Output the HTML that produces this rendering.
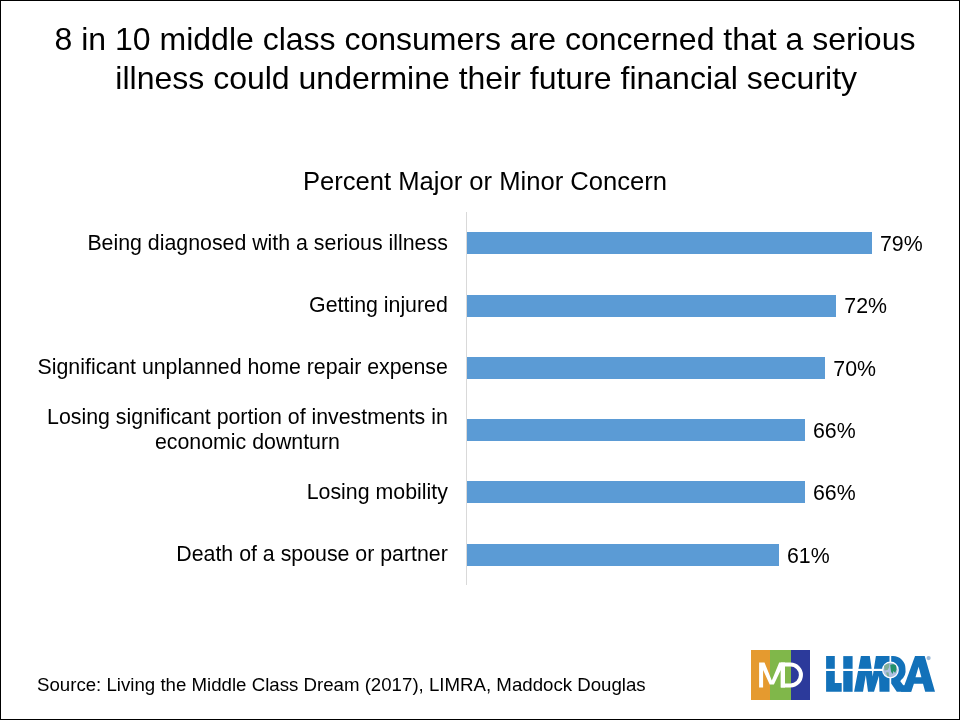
<!DOCTYPE html>
<html><head><meta charset="utf-8">
<style>
html,body{margin:0;padding:0;background:#fff;}
body{width:960px;height:720px;position:relative;overflow:hidden;-webkit-font-smoothing:antialiased;font-family:"Liberation Sans",sans-serif;color:#000;}
.frame{position:absolute;left:0;top:0;width:958px;height:718px;border:1px solid #000;}
.t{position:absolute;white-space:nowrap;}
#title{left:0;width:970px;top:20px;font-size:32px;line-height:39px;text-align:center;}
#sub{left:0;width:970px;top:166px;font-size:25.6px;line-height:30px;text-align:center;}
.lab{position:absolute;right:512.2px;font-size:21.33px;line-height:24.5px;text-align:center;white-space:nowrap;}
.val{position:absolute;font-size:21.33px;line-height:24px;white-space:nowrap;}
.bar{position:absolute;left:467px;height:21.5px;background:#5b9bd5;}
#axis{position:absolute;left:466px;top:212px;width:1px;height:373px;background:#d9d9d9;}
#src{left:37px;top:673.5px;font-size:18.67px;line-height:22px;}
</style></head><body>
<div class="frame"></div><div id="wrap" style="position:absolute;left:0;top:0;width:960px;height:720px;will-change:transform;">
<div class="t" id="title">8 in 10 middle class consumers are concerned that a serious<br><span style="position:relative;left:1.2px">illness could undermine their future financial security</span></div>
<div class="t" id="sub">Percent Major or Minor Concern</div>

<div id="axis"></div>
<div class="bar" style="top:232px;width:405px"></div>
<div class="bar" style="top:295px;width:369px"></div>
<div class="bar" style="top:357.2px;width:358px"></div>
<div class="bar" style="top:419.1px;width:338px"></div>
<div class="bar" style="top:481.4px;width:338px"></div>
<div class="bar" style="top:544px;width:312px"></div>

<div class="lab" style="top:231px">Being diagnosed with a serious illness</div>
<div class="lab" style="top:293px">Getting injured</div>
<div class="lab" style="top:355px">Significant unplanned home repair expense</div>
<div class="lab" style="top:405px">Losing significant portion of investments in<br>economic downturn</div>
<div class="lab" style="top:480px">Losing mobility</div>
<div class="lab" style="top:541.5px">Death of a spouse or partner</div>

<div class="val" style="left:880px;top:232px">79%</div>
<div class="val" style="left:844.3px;top:294px">72%</div>
<div class="val" style="left:833.3px;top:357px">70%</div>
<div class="val" style="left:813px;top:419px">66%</div>
<div class="val" style="left:813px;top:481px">66%</div>
<div class="val" style="left:787px;top:544px">61%</div>

<div class="t" id="src">Source: Living the Middle Class Dream (2017), LIMRA, Maddock Douglas</div>

<svg style="position:absolute;left:751px;top:650px" width="59" height="50" viewBox="751 650 59 50">
<rect x="751" y="650" width="19" height="50" fill="#e59a2f"/>
<rect x="770" y="650" width="21" height="50" fill="#80b74a"/>
<rect x="791" y="650" width="19" height="50" fill="#2c3a9b"/>
<path fill="#fff" d="M759.1,687.5 V662.6 H764.5 L771.8,680.5 L779.2,662.6 H785 V687.5 H780.8 V670 L773.9,684.5 H769.7 L763.1,670 V687.5 Z"/>
<path fill="#fff" fill-rule="evenodd" d="M780.8,662.6 H790.5 A12.45,12.45 0 0 1 790.5,687.5 H780.8 Z M785,666.6 H790.5 A8.4,8.4 0 0 1 790.5,683.4 H785 Z"/>
</svg>

<svg style="position:absolute;left:822px;top:652px" width="116" height="45" viewBox="822 652 116 45">
<g fill="#1271b9">
<path d="M826.1,656.1 H834.8 V683 H841.7 V691.8 H826.1 Z"/>
<path d="M843.25,656.1 H852.6 V691.8 H843.25 Z"/>
<path d="M854.1,691.8 L860.9,656.1 H869.8 L872.7,676.5 L875.9,656.1 H889.5 V691.8 H879.5 L879,675.7 L874,691.8 H868 L865.8,675.2 L863,691.8 Z"/>
<path d="M891.2,656.1 H893 A12.45,12.45 0 0 1 905.45,668.55 A12.45,12.45 0 0 1 900.5,680.5 L911.3,691.8 H896.8 L891.2,683.5 Z"/>
<path d="M914.3,656.1 H924.7 L935,691.8 H925.2 L923,683.8 H913.9 L911.3,691.8 H900.9 Z"/>
</g>
<path d="M918.6,666.8 L921.4,677.3 H915.5 Z" fill="#fff"/>
<path d="M914.5,655 L903.6,685" stroke="#fff" stroke-width="1.7" fill="none"/>
<path d="M900.2,681.2 L905,680 L903.6,685.6 Z" fill="#fff"/>
<rect x="822" y="668.8" width="62" height="2.2" fill="#fff"/>
<circle cx="890.4" cy="670" r="8.4" fill="#fff"/>
<circle cx="890.4" cy="670" r="7.2" fill="#aebfe0"/>
<path fill="#7fae98" d="M884,666 C885,664.5 887,663.6 889.5,663.4 L889,667.5 L887.5,670 L884.5,670.5 Z M886,672.5 L888.5,672.3 L889.2,676.5 L887.2,676 Z"/>
<path fill="#23916a" d="M890.2,664.8 C892,663.8 894.5,664 896,665.5 L896.5,669.5 L895.2,673 L893.5,671 L892.5,674 L891,671.5 Z"/>
<circle cx="928.6" cy="658.1" r="2.1" fill="#9db9d6"/>
</svg>

</div></body></html>
